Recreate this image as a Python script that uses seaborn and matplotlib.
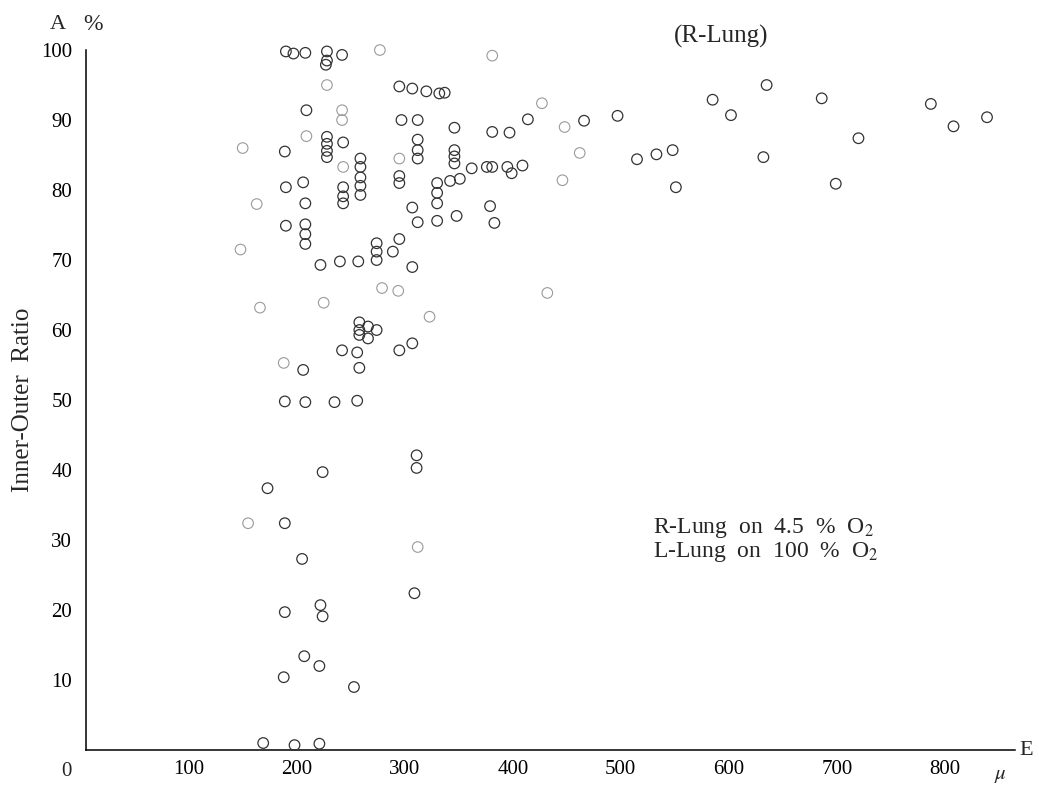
import matplotlib
matplotlib.use("Agg")
import matplotlib.pyplot as plt
import seaborn as sns
import pandas as pd

# Inner-outer ratio (%) against E (μ)
# dark circles
x_dark = [190, 197, 208, 228, 228, 227, 242,
          295, 307, 320, 332, 337,
          209, 297, 312, 346, 381, 397, 414, 466, 497,
          228, 228, 228, 228, 243, 189,
          312, 312, 312, 346, 346, 346,
          362, 376, 381, 395, 399, 409,
          259, 259, 259, 259, 259,
          243, 243, 243, 295, 295, 342, 351, 330, 330, 330,
          190, 206, 208, 307, 312, 330, 348, 379, 383,
          190, 208, 208, 208,
          222, 240, 257, 274, 274, 274, 289, 295, 307,
          258, 258, 258, 266, 266, 274,
          307, 295, 242, 256, 258, 206,
          189, 208, 235, 256,
          311, 311, 224, 173, 189, 205, 309,
          222, 224, 189, 207, 221, 188, 253,
          169, 198, 221,
          635, 585, 686, 602, 787, 808, 839, 720,
          515, 533, 548, 632, 699, 551]
y_dark = [99.8, 99.5, 99.6, 99.8, 98.5, 97.9, 99.3,
          94.8, 94.5, 94.1, 93.8, 93.9,
          91.4, 90.0, 90.0, 88.9, 88.3, 88.2, 90.1, 89.9, 90.6,
          87.6, 86.6, 85.6, 84.7, 86.8, 85.5,
          87.2, 85.7, 84.5, 85.7, 84.8, 83.8,
          83.1, 83.3, 83.3, 83.3, 82.4, 83.5,
          84.5, 83.3, 81.8, 80.6, 79.3,
          80.4, 79.1, 78.1, 82.0, 81.0, 81.3, 81.6, 81.0, 79.6, 78.1,
          80.4, 81.1, 78.1, 77.5, 75.4, 75.6, 76.3, 77.7, 75.3,
          74.9, 75.1, 73.7, 72.3,
          69.3, 69.8, 69.8, 72.4, 71.2, 70.0, 71.2, 73.0, 69.0,
          61.1, 60.0, 59.3, 60.5, 58.8, 60.0,
          58.1, 57.1, 57.1, 56.8, 54.6, 54.3,
          49.8, 49.7, 49.7, 49.9,
          42.1, 40.3, 39.7, 37.4, 32.4, 27.3, 22.4,
          20.7, 19.1, 19.7, 13.4, 12.0, 10.4, 9.0,
          1.0, 0.7, 0.9,
          95.0, 92.9, 93.1, 90.7, 92.3, 89.1, 90.4, 87.4,
          84.4, 85.1, 85.7, 84.7, 80.9, 80.4]

# faint (half printed) circles
x_faint = [277, 381, 228, 242, 242, 427, 209, 150, 295, 243,
           163, 148, 279, 294, 225, 166, 323, 188, 155, 312,
           462, 446, 432, 448]
y_faint = [100.0, 99.2, 95.0, 91.4, 90.0, 92.4, 87.7, 86.0, 84.5, 83.3,
           78.0, 71.5, 66.0, 65.6, 63.9, 63.2, 61.9, 55.3, 32.4, 29.0,
           85.3, 81.4, 65.3, 89.0]

x_ticks = [100, 200, 300, 400, 500, 600, 700, 800]
y_ticks = [10, 20, 30, 40, 50, 60, 70, 80, 90, 100]

df_dark = pd.DataFrame({"E": x_dark, "ratio": y_dark})
df_faint = pd.DataFrame({"E": x_faint, "ratio": y_faint})

sns.set_style("white")
plt.rcParams["font.family"] = ["Liberation Serif", "DejaVu Serif"]
plt.rcParams["mathtext.fontset"] = "stix"

fig = plt.figure(figsize=(10.39, 7.88), dpi=100)
ax = fig.add_axes([0.0828, 0.0482, 0.8942, 0.8883])

sns.scatterplot(data=df_faint, x="E", y="ratio", ax=ax, marker="o", s=58,
                color="#9a9a9a", facecolor="none", edgecolor="#9a9a9a",
                linewidth=0.8, clip_on=False, zorder=3)
sns.scatterplot(data=df_dark, x="E", y="ratio", ax=ax, marker="o", s=58,
                color="#333333", facecolor="none", edgecolor="#333333",
                linewidth=0.9, clip_on=False, zorder=4)

ax.set_xlim(5, 865)
ax.set_ylim(0, 100)
ax.set_xticks(x_ticks)
ax.set_yticks(y_ticks)
ax.set_xticklabels([str(t) for t in x_ticks], fontsize=15)
ax.set_yticklabels([str(t) for t in y_ticks], fontsize=15)
ax.tick_params(axis="x", direction="in", length=8, width=1, pad=7, colors="black")
ax.tick_params(axis="y", direction="in", length=6, width=1, pad=10, colors="black")

for side in ["top", "right"]:
    ax.spines[side].set_visible(False)
for side in ["left", "bottom"]:
    ax.spines[side].set_color("black")
    ax.spines[side].set_linewidth(1.1)

ax.set_xlabel("")
ax.set_ylabel("Inner-Outer  Ratio", fontsize=18, labelpad=5)

# corner zero and axis names
ax.text(-0.021, -0.03, "0", transform=ax.transAxes, fontsize=15,
        ha="center", va="center")
ax.text(-0.03, 1.036, "A", transform=ax.transAxes, fontsize=16,
        ha="center", va="center")
ax.text(0.007, 1.036, "%", transform=ax.transAxes, fontsize=17,
        ha="center", va="center")
ax.text(1.005, 0.0, "E", transform=ax.transAxes, fontsize=16,
        ha="left", va="center")
ax.text(0.984, -0.037, r"$\mu$", transform=ax.transAxes, fontsize=15,
        ha="center", va="center")

ax.text(0.684, 1.02, "(R-Lung)", transform=ax.transAxes, fontsize=18,
        ha="center", va="center")
ax.text(0.61, 0.30, "R-Lung  on  4.5  %  O$_2$\nL-Lung  on  100  %  O$_2$",
        transform=ax.transAxes, fontsize=17, ha="left", va="center",
        linespacing=1.05)

fig.savefig("out.png", dpi=100, facecolor="white")
